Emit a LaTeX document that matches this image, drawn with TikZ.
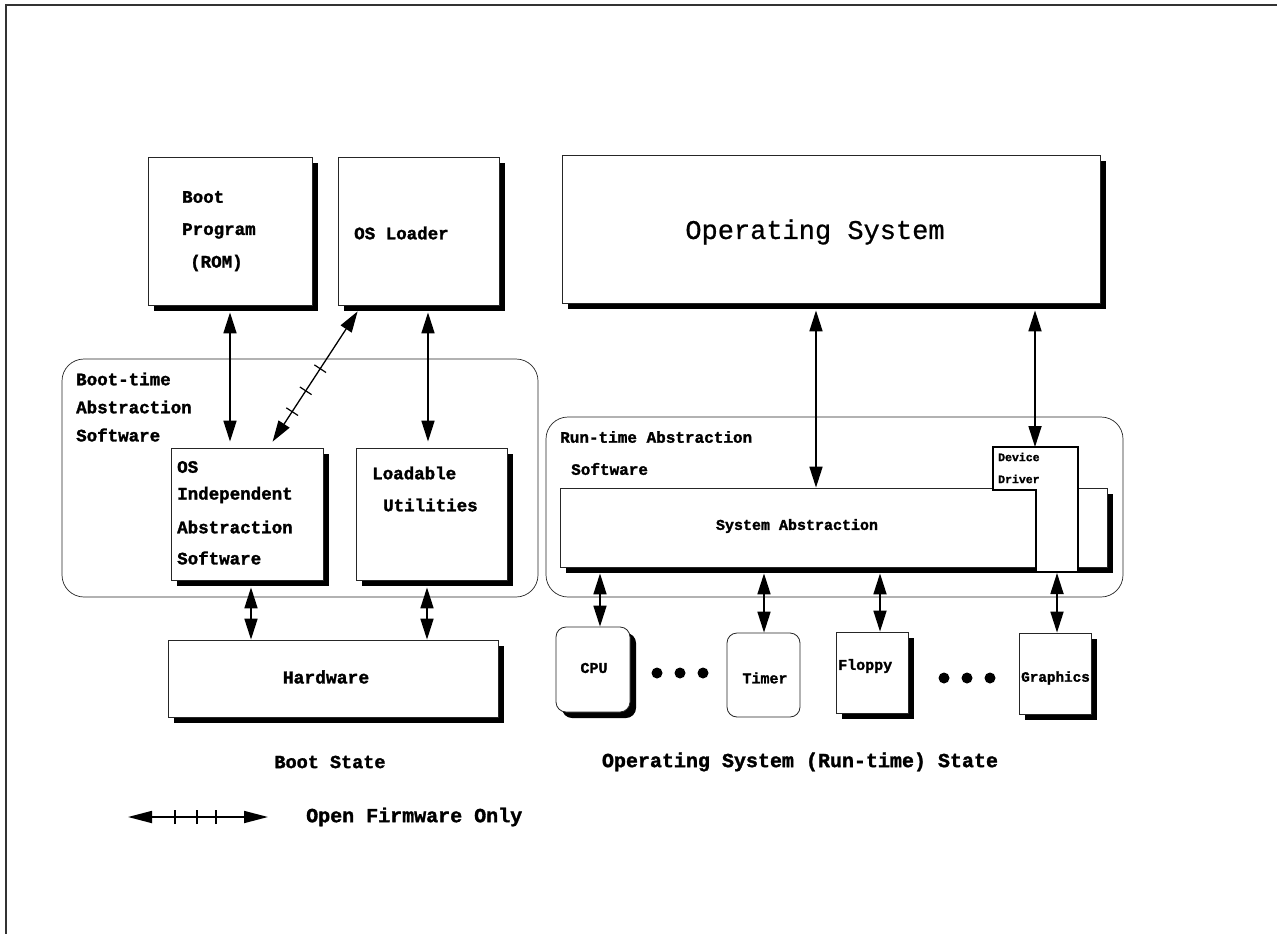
\documentclass[tikz,border=0pt]{standalone}
\usepackage{fontspec}
\setmainfont{Liberation Mono}[BoldFeatures={FakeBold=1.6}]
\newfontfamily\osfont{Liberation Mono}[FakeBold=0.8]
\usetikzlibrary{arrows.meta,shadows,calc,decorations.markings}

\begin{document}
\begin{tikzpicture}[x=1pt,y=-1pt,
  every node/.style={inner sep=0pt},
  sbox/.style={draw=black!85, line width=0.8pt, fill=white,
    general shadow={fill=black, shadow xshift=6pt, shadow yshift=-6pt}},
  pbox/.style={draw=black!85, line width=0.8pt, fill=white},
  area/.style={draw=black!85, line width=0.7pt, rounded corners=22pt},
  tip/.style={Triangle[length=21pt,width=13pt]},
  dbl/.style={line width=1.7pt, {Triangle[length=21pt,width=13pt]}-{Triangle[length=21pt,width=13pt]}},
  lbl/.style={font=\fontsize{17.5}{20}\selectfont\bfseries, anchor=west},
  sml/.style={font=\fontsize{15}{18}\selectfont\bfseries},
  ticked/.style={postaction={decorate, decoration={markings,
    mark=at position #1 with {\draw[arrows=-, line width=1.2pt] (0,-7pt) -- (0,7pt);}}}}
]
\useasboundingbox (0,0) rectangle (1277,934);
\fill[white] (0,0) rectangle (1277,934);

% page frame (top and left edges)
\draw[line width=2.5pt, black!80] (6,934) -- (6,5) -- (1277,5);

% ---------- boot state ----------
\node[area, minimum width=476pt, minimum height=238pt] (bootarea) at (300,478) {};
\node[lbl] (bt1) at (76,379) {Boot-time};
\node[lbl] (bt2) at (76,407) {Abstraction};
\node[lbl] (bt3) at (76,435) {Software};

\node[sbox, minimum width=164pt, minimum height=148pt] (boot) at (230,231) {};
\node[lbl] (boot1) at (182,197) {Boot};
\node[lbl] (boot2) at (182,231) {Program};
\node[lbl] (boot3) at (190,263) {(ROM)};

\node[sbox, minimum width=161pt, minimum height=148pt] (loader) at (418.5,231) {};
\node[lbl] (loadtxt) at (354,233) {OS Loader};

\node[sbox, minimum width=152pt, minimum height=132pt] (osi) at (247,514) {};
\node[lbl] (osi1) at (177,467) {OS};
\node[lbl] (osi2) at (177,495) {Independent};
\node[lbl] (osi3) at (177,527) {Abstraction};
\node[lbl] (osi4) at (177,558) {Software};

\node[sbox, minimum width=151pt, minimum height=132pt] (util) at (431.5,514) {};
\node[lbl] (util1) at (372,473) {Loadable};
\node[lbl] (util2) at (383,505) {Utilities};

\node[sbox, minimum width=330pt, minimum height=77pt] (hw) at (333,678.5) {};
\node[font=\fontsize{18}{20}\selectfont\bfseries] (hwtxt) at (326,677) {Hardware};

\node[font=\fontsize{18.5}{20}\selectfont\bfseries] (bootstate) at (330,762) {Boot State};

% ---------- run-time state ----------
\node[sbox, minimum width=538pt, minimum height=148pt] (os) at (831,229) {};
\node[font=\fontsize{27}{30}\osfont] (ostxt) at (815,232) {Operating System};

\node[area, minimum width=577pt, minimum height=180pt] (runarea) at (834.5,507) {};
\node[font=\fontsize{16}{18}\selectfont\bfseries, anchor=west] (rt1) at (560,437) {Run-time Abstraction};
\node[font=\fontsize{16}{18}\selectfont\bfseries, anchor=west] (rt2) at (571,469) {Software};

\node[sbox, minimum width=547pt, minimum height=79pt] (sys) at (833.5,527.5) {};
\node[sml] (systxt) at (797,526) {System Abstraction};

% device driver outline over the system abstraction
\draw[line width=2.2pt, fill=white] (993,447) -- (1078,447) -- (1078,572)
  -- (1036,572) -- (1036,490) -- (993,490) -- cycle;
\node[font=\fontsize{11.5}{13}\selectfont\bfseries, anchor=west] (drv1) at (998,457) {Device};
\node[font=\fontsize{11.5}{13}\selectfont\bfseries, anchor=west] (drv2) at (998,479) {Driver};
\coordinate (drvtop) at (1035,447);
\coordinate (drvbot) at (1057,573);

% devices
\node[sbox, rounded corners=10pt, minimum width=74pt, minimum height=85pt] (cpu) at (593,669.5) {};
\node[sml] (cputxt) at (594,668) {CPU};
\node[pbox, rounded corners=10pt, minimum width=73pt, minimum height=84pt] (timer) at (763.5,675) {};
\node[sml] (timertxt) at (765,678) {Timer};
\node[sbox, minimum width=72pt, minimum height=81pt] (floppy) at (872,672.5) {};
\node[sml, anchor=west] (floppytxt) at (838,666) {Floppy};
\node[sbox, minimum width=72pt, minimum height=81pt] (gfx) at (1055,673.5) {};
\node[font=\fontsize{14.3}{18}\selectfont\bfseries, anchor=west] (gfxtxt) at (1021,678) {Graphics};

\foreach \x in {657,680,703} \fill (\x,673) circle[radius=5.5pt];
\foreach \x in {944,967,990} \fill (\x,678) circle[radius=5.5pt];

\node[font=\fontsize{20}{22}\selectfont\bfseries] (osstate) at (800,762) {Operating System (Run-time) State};

% ---------- connectors ----------
\draw[dbl] ($(boot.south)+(0,7)$) -- ($(boot.south |- osi.north)+(0,-6)$);
\draw[dbl] ($(loader.south)+(9.5,7)$) -- ($(loader.south |- util.north)+(9.5,-6)$);
\draw[line width=1.3pt, {Triangle[length=21pt,width=13pt]}-{Triangle[length=21pt,width=13pt]},
  ticked=0.44, ticked=0.61, ticked=0.77]
  ($(loader.south west)+(20,6)$) -- ($(osi.north west)+(102,-6)$);
\draw[dbl] ($(osi.south)+(4,7)$) -- ($(osi.south |- hw.north)+(4,0)$);
\draw[dbl] ($(util.south)+(-4.5,7)$) -- ($(util.south |- hw.north)+(-4.5,0)$);

\draw[dbl] ($(os.south)+(-15,7)$) -- ($(os.south |- sys.north)+(-15,0)$);
\draw[dbl] ($(os.south -| drvtop)+(0,7)$) -- (drvtop);
\draw[dbl] ($(cpu.north |- sys.south)+(7,6)$) -- ($(cpu.north)+(7,0)$);
\draw[dbl] ($(timer.north |- sys.south)+(0.5,6)$) -- ($(timer.north)+(0.5,0)$);
\draw[dbl] ($(floppy.north |- sys.south)+(8,6)$) -- ($(floppy.north)+(8,0)$);
\draw[dbl] (drvbot) -- (drvbot |- gfx.north);

% ---------- legend ----------
\coordinate (lgA) at (128,817);
\coordinate (lgB) at (268,817);
\draw[line width=1.7pt, {Triangle[length=24pt,width=12pt]}-{Triangle[length=24pt,width=12pt]},
  ticked=0.336, ticked=0.493, ticked=0.629] (lgA) -- (lgB);
\node[font=\fontsize{20}{22}\selectfont\bfseries, anchor=west] (lgtxt) at (306,817) {Open Firmware Only};
\end{tikzpicture}
\end{document}
